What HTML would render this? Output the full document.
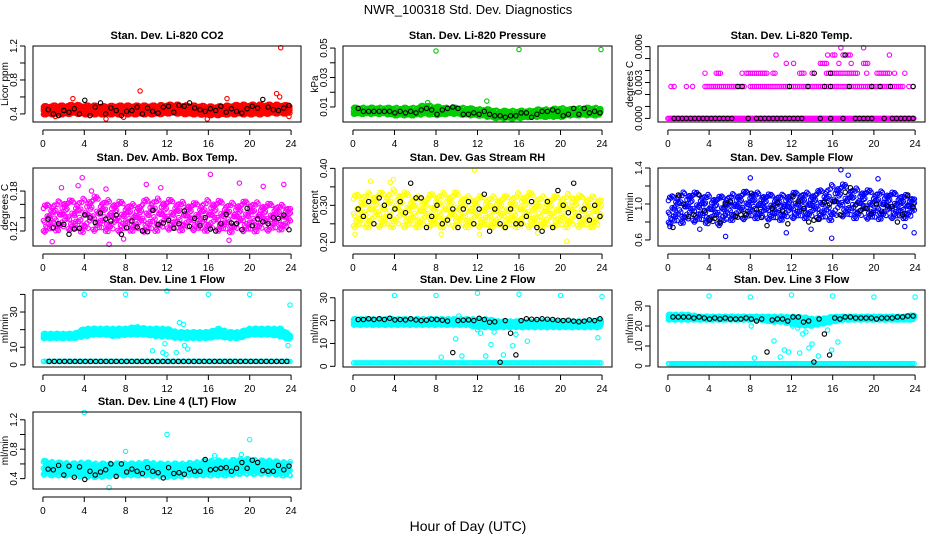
<!DOCTYPE html>
<html><head><meta charset="utf-8"><style>
html,body{margin:0;padding:0;background:#fff;}
svg{display:block;font-family:"Liberation Sans",sans-serif;}
</style></head><body>
<svg id="c" width="936" height="540" viewBox="0 0 936 540">
<text x="468" y="14" text-anchor="middle" font-size="13">NWR_100318 Std. Dev. Diagnostics</text>
<text x="468" y="531" text-anchor="middle" font-size="14">Hour of Day (UTC)</text>
</svg>
<script>
// ---- data ----
var hours = [0,1,2,3,4,5,6,7,8,9,10,11,12,13,14,15,16,17,18,19,20,21,22,23,24];
var xTicks = [0,4,8,12,16,20,24];

var co2Lo = [0.39,0.39,0.39,0.40,0.39,0.39,0.39,0.39,0.39,0.39,0.39,0.39,0.40,0.40,0.39,0.39,0.38,0.38,0.39,0.39,0.39,0.39,0.40,0.40,0.40];
var co2Hi = [0.50,0.51,0.51,0.52,0.51,0.51,0.50,0.51,0.51,0.51,0.51,0.51,0.52,0.52,0.51,0.51,0.50,0.50,0.51,0.52,0.52,0.52,0.52,0.52,0.51];
var co2Black = [0.45,0.40,0.38,0.44,0.42,0.46,0.40,0.56,0.38,0.48,0.53,0.40,0.47,0.44,0.38,0.43,0.44,0.48,0.40,0.47,0.43,0.41,0.48,0.49,0.42,0.50,0.49,0.53,0.47,0.45,0.43,0.46,0.44,0.49,0.42,0.46,0.43,0.41,0.46,0.49,0.47,0.57,0.48,0.45,0.44,0.47,0.50];
var co2OutX = [23.0,9.4,22.6,2.9,17.8,23.8,6.1,15.9,22.9,1.2,7.8];
var co2OutY = [1.18,0.67,0.64,0.58,0.58,0.37,0.34,0.34,0.60,0.37,0.36];

var presLo = [0.005,0.005,0.005,0.005,0.004,0.004,0.004,0.005,0.004,0.005,0.005,0.004,0.004,0.003,0.002,0.002,0.002,0.003,0.003,0.003,0.003,0.004,0.004,0.004,0.004];
var presHi = [0.010,0.010,0.010,0.010,0.010,0.010,0.010,0.012,0.011,0.010,0.010,0.010,0.009,0.009,0.008,0.008,0.008,0.008,0.009,0.009,0.010,0.009,0.010,0.010,0.010];
var presBlack = [0.009,0.007,0.007,0.007,0.007,0.007,0.007,0.006,0.007,0.006,0.007,0.006,0.008,0.009,0.008,0.005,0.008,0.009,0.010,0.009,0.005,0.005,0.006,0.005,0.007,0.005,0.004,0.004,0.003,0.004,0.004,0.006,0.006,0.003,0.005,0.007,0.007,0.008,0.007,0.004,0.005,0.009,0.005,0.009,0.006,0.007,0.006];
var presOutX = [8.0,16.0,23.9,12.9,7.2];
var presOutY = [0.048,0.049,0.049,0.014,0.013];

var tempLevels = [0.0, 0.00267, 0.00378, 0.0046, 0.0053, 0.0059];
var tempMagentaHours = [
  [],
  [0.3,0.6,1.8,2.4,3.6,3.8,4.0,4.2,4.4,4.6,4.8,5.0,5.2,5.4,5.6,5.8,6.0,6.2,6.4,6.6,6.8,7.0,7.2,7.4,8.0,8.2,8.4,8.6,8.8,9.0,9.2,9.4,9.6,9.8,10.0,10.2,10.4,10.6,10.8,11.0,11.2,11.4,11.6,11.8,12.0,12.2,12.4,12.6,12.8,13.0,13.2,13.4,13.6,13.8,14.0,14.2,14.4,14.6,14.8,15.0,15.2,15.4,15.6,15.8,16.0,16.2,16.4,16.6,16.8,17.0,17.2,17.4,17.6,17.8,18.0,18.2,18.4,18.6,18.8,19.0,19.2,19.4,19.6,19.8,20.0,20.2,20.4,20.6,20.8,21.0,21.2,21.4,21.6,21.8,22.0,22.2,22.4,22.6,22.8,23.4,23.8],
  [3.6,4.7,4.9,5.1,7.2,7.6,7.8,8.0,8.2,8.4,8.6,8.8,9.0,9.2,9.4,9.6,10.2,10.4,12.8,13.0,13.2,14.0,15.4,15.6,15.8,16.0,16.2,16.4,16.6,16.8,17.0,17.2,17.4,17.6,17.8,18.0,18.2,18.4,19.3,20.3,20.5,20.7,20.9,21.1,21.3,21.5,22.0,23.0],
  [11.5,12.2,14.8,15.0,15.2,15.4,16.6,17.8,19.0,19.2,19.4],
  [10.5,15.5,16.0,16.2,17.0,17.5,17.7,21.5],
  [16.8,19.0]
];
var tempBlackHours = [
  [0.6,1.0,1.4,1.8,2.2,2.6,3.0,3.4,3.8,4.2,4.6,5.0,5.4,5.8,6.2,7.8,8.6,9.0,9.4,9.8,10.2,10.6,11.0,11.4,11.8,12.2,12.6,13.0,14.8,15.8,17.0,18.2,18.6,19.0,19.4,19.8,21.0,21.8,22.2,22.6,23.0,23.4,23.8],
  [6.8,7.2,11.8,13.6,15.2,15.8,17.6,19.8,20.6,21.6,23.8],
  [14.2,15.8],
  [],
  [17.2],
  []
];

var ambLo = [0.118,0.120,0.122,0.120,0.118,0.120,0.120,0.118,0.120,0.120,0.118,0.120,0.122,0.120,0.122,0.120,0.120,0.120,0.118,0.120,0.118,0.120,0.120,0.122,0.122];
var ambHi = [0.160,0.165,0.170,0.168,0.172,0.175,0.170,0.168,0.165,0.162,0.170,0.172,0.170,0.168,0.165,0.164,0.170,0.168,0.165,0.166,0.168,0.165,0.163,0.162,0.160];
var ambBlack = [0.138,0.125,0.131,0.130,0.115,0.123,0.124,0.144,0.140,0.133,0.147,0.138,0.135,0.144,0.115,0.125,0.135,0.126,0.120,0.119,0.151,0.130,0.132,0.136,0.124,0.131,0.150,0.127,0.139,0.128,0.140,0.123,0.120,0.131,0.145,0.132,0.131,0.122,0.154,0.128,0.138,0.134,0.131,0.140,0.139,0.144,0.122];
var ambOutX = [3.8,16.2,6.4,1.8,3.4,10.0,19.0,23.3,21.3,11.4,6.1,18.0,7.8,0.9,4.7];
var ambOutY = [0.200,0.205,0.100,0.185,0.188,0.190,0.192,0.190,0.187,0.185,0.183,0.106,0.108,0.104,0.180];

var rhLo = [0.24,0.24,0.24,0.24,0.24,0.24,0.24,0.24,0.24,0.24,0.24,0.24,0.24,0.24,0.24,0.24,0.24,0.24,0.24,0.24,0.24,0.24,0.24,0.24,0.24];
var rhHi = [0.33,0.34,0.34,0.34,0.35,0.34,0.33,0.33,0.34,0.34,0.34,0.33,0.33,0.33,0.33,0.33,0.34,0.34,0.33,0.33,0.33,0.34,0.33,0.33,0.33];
var rhBlack = [0.29,0.27,0.31,0.25,0.32,0.30,0.27,0.29,0.31,0.28,0.36,0.32,0.32,0.24,0.27,0.30,0.25,0.26,0.29,0.24,0.29,0.31,0.25,0.29,0.33,0.23,0.29,0.25,0.24,0.29,0.25,0.25,0.27,0.31,0.24,0.23,0.31,0.24,0.34,0.30,0.28,0.36,0.27,0.29,0.26,0.30,0.27];
var rhOutX = [11.7,20.6,0.2,8.5,1.7,3.9,3.6,12.2,17.8];
var rhOutY = [0.395,0.203,0.222,0.222,0.365,0.370,0.362,0.222,0.225];

var flowLo = [0.78,0.78,0.80,0.80,0.78,0.76,0.82,0.82,0.84,0.84,0.82,0.82,0.84,0.84,0.84,0.82,0.82,0.86,0.84,0.84,0.82,0.84,0.84,0.84,0.84];
var flowHi = [1.08,1.14,1.16,1.14,1.12,1.10,1.12,1.15,1.16,1.14,1.12,1.12,1.14,1.15,1.14,1.18,1.24,1.24,1.20,1.18,1.16,1.16,1.14,1.12,1.10];
var flowBlack = [0.74,1.10,1.00,0.86,0.88,1.10,0.92,0.82,0.84,0.80,1.00,1.03,0.86,0.88,0.88,1.12,0.94,0.85,0.76,0.95,1.02,0.92,0.78,1.08,1.03,0.95,0.80,0.82,0.83,1.02,1.00,1.03,0.88,1.13,1.18,0.99,0.93,0.95,0.89,1.00,0.92,0.98,0.97,0.80,0.88,1.10,0.97];
var flowOutX = [5.6,15.9,23.9,8.0,16.8,17.5,20.4,3.1,13.9,11.5,0.2,23.0];
var flowOutY = [0.64,0.62,0.68,1.29,1.38,1.32,1.28,0.72,0.72,0.68,0.75,0.75];

var l1Lo = [15.0,15.0,15.0,15.0,16.0,17.0,17.0,16.0,17.0,17.0,17.0,16.0,16.0,15.0,15.0,15.0,15.0,16.0,15.0,15.0,17.0,17.0,17.0,16.0,14.0];
var l1Hi = [18.0,18.0,18.0,18.0,21.0,21.0,21.0,21.0,21.0,22.0,21.0,21.0,21.0,19.0,19.0,19.0,19.0,21.0,19.0,19.0,21.0,21.0,21.0,21.0,17.0];
var l1Base = 2;
var l1OutX = [4.0,8.0,12.0,16.0,20.0,23.9,10.6,11.6,11.8,13.2,13.6,12.9,14.0,13.7,11.9,23.7];
var l1OutY = [40,40,42,40,40,34,8,7,12,24,23,7,9,11,6,11];

var l2Lo = [18,18,18,18,18,18,18,18,18,18,18,18,17,17,17,17,17,17,17,17,17,17,17,17,17];
var l2Hi = [21,21,21,21,21,21,21,21,21,21,21,21,21,21,20,20,20,20,20,20,20,20,20,20,21];
var l2Base = 1.5;
var l2Black = [20.5,20.5,20.8,20.5,20.8,20.5,21.0,20.3,20.5,20.3,20.8,20.3,20.0,20.2,20.6,20.5,20.2,19.8,6.0,20.0,20.2,20.3,20.0,21.0,20.5,19.3,19.5,1.8,20.0,14.5,5.0,20.0,20.8,20.6,20.5,20.8,20.6,20.5,20.2,20.0,20.2,19.8,19.5,19.8,20.3,20.0,20.8];
var l2OutX = [4.0,8.0,12.0,16.0,20.0,24.0,8.5,9.9,10.5,12.3,12.8,13.3,13.6,14.5,15.4,15.7,16.8,23.6,10.2,12.0];
var l2OutY = [31,31,32,31.5,31,30.5,4,12,4.5,14.5,4.5,9.5,15,5,9,14,11,12.5,22,16];

var l3Lo = [23,23,23,23,23,23,23,23,23,23,22,22,21,20,20,21,22,23,23,23,23,23,23,23,23];
var l3Hi = [26,26,26,25,25,25,25,25,25,25,25,25,25,25,24,24,25,25,25,25,25,25,25,25,26];
var l3Base = 1.2;
var l3Black = [24.5,24.5,24.5,24.5,24.0,24.5,24.0,23.5,24.0,23.5,24.0,23.5,23.5,23.5,24.0,23.5,22.5,23.5,7.0,23.0,23.5,23.5,22.5,24.5,24.5,22.0,22.5,2.0,23.5,16.0,5.5,24.0,23.5,24.5,24.5,24.0,24.0,24.0,24.0,23.5,24.0,24.0,24.0,24.5,24.5,25.0,25.0];
var l3OutX = [4.0,8.0,12.0,16.0,20.0,24.0,8.1,8.4,10.3,10.9,11.3,11.7,12.8,13.1,13.7,14.0,14.6,15.5,15.9,16.5,12.1,12.6,13.4];
var l3OutY = [35,34.5,35.5,35,34.5,34.5,20,4,12.5,4.5,8,7,6.5,16,9,11,5,18,8,12,20,19,17];

var l4Lo = [0.45,0.44,0.44,0.44,0.42,0.42,0.42,0.44,0.44,0.44,0.44,0.43,0.42,0.42,0.44,0.44,0.44,0.44,0.44,0.46,0.46,0.46,0.46,0.44,0.44];
var l4Hi = [0.66,0.64,0.63,0.62,0.64,0.62,0.62,0.62,0.62,0.62,0.64,0.62,0.62,0.62,0.62,0.64,0.66,0.66,0.66,0.68,0.68,0.66,0.66,0.64,0.64];
var l4Black = [0.53,0.52,0.58,0.45,0.57,0.42,0.56,0.39,0.50,0.45,0.49,0.52,0.60,0.43,0.60,0.49,0.53,0.50,0.47,0.55,0.50,0.48,0.41,0.55,0.47,0.48,0.46,0.53,0.50,0.50,0.66,0.52,0.53,0.54,0.55,0.50,0.54,0.62,0.54,0.65,0.62,0.51,0.50,0.50,0.58,0.52,0.57];
var l4OutX = [4.0,12.0,20.0,8.0,6.4,19.2,16.6];
var l4OutY = [1.30,1.00,0.93,0.77,0.28,0.73,0.71];

// ---- rendering ----
var svg = document.getElementById('c');
var NS = 'http://www.w3.org/2000/svg';
var PATTERN = [0.05,0.55,0.3,0.85,0.15,0.7,0.42,0.95,0.25,0.62,0.0,0.5,0.78,0.35,0.9,0.1,0.66,0.2,0.48,0.82];
function mk(tag, attrs, parent){
  var e = document.createElementNS(NS, tag);
  for (var k in attrs) e.setAttribute(k, attrs[k]);
  (parent||svg).appendChild(e);
  return e;
}
function interp(arr, t){
  var i = Math.min(Math.floor(t), 23); var f = t - i;
  return arr[i] + (arr[i+1]-arr[i])*f;
}
function panel(c){
  var g = mk('g', {});
  
  
  var sx = function(h){ return c.x0 + (h + 0.96) / 25.92 * (c.x1 - c.x0); };
  var sy = function(v){ return c.y1 - (v - c.ymin) / (c.ymax - c.ymin) * (c.y1 - c.y0); };
  function pt(h, v, col, nm){
    var e = mk('circle', {cx: sx(h).toFixed(1), cy: sy(v).toFixed(1), r: 2.2, fill: 'none', stroke: col, 'stroke-width': 1.1}, g);
    
    
  }
  if (c.lo){
    if (c.solid){
      var d = '';
      for (var t=0; t<=24; t+=0.5) d += (d?'L':'M') + sx(t).toFixed(1) + ',' + sy(interp(c.hi,t)-c.solid*(interp(c.hi,t)-interp(c.lo,t))).toFixed(1);
      for (var t=24; t>=0; t-=0.5) d += 'L' + sx(t).toFixed(1) + ',' + sy(interp(c.lo,t)+c.solid*(interp(c.hi,t)-interp(c.lo,t))).toFixed(1);
      var band = mk('path', {d: d + 'Z', fill: c.color}, g);
      
      
    }
    var k = 0;
    for (var t=0.05; t<=23.95; t+=c.step){
      var lo = interp(c.lo,t), hi = interp(c.hi,t);
      for (var j=0; j<c.per; j++){
        var f = PATTERN[(k*7 + j*3) % PATTERN.length];
        pt(t, lo + f*(hi-lo), c.color, c.name + '-point');
      }
      k++;
    }
  }
  if (c.base !== undefined){
    for (var t=0.05; t<=23.95; t+=0.15) pt(t, c.base, c.color, c.name + '-baseline-point');
  }
  if (c.ox) for (var i=0; i<c.ox.length; i++) pt(c.ox[i], c.oy[i], c.color, c.name + '-outlier');
  if (c.black) for (var i=0; i<c.black.length; i++) pt(0.5 + i*23.3/(c.black.length-1), c.black[i], '#000', c.name + '-hourly-point');
  if (c.blackBase !== undefined) for (var t=0.6; t<=23.9; t+=0.5) pt(t, c.blackBase, '#000', c.name + '-hourly-point');
  if (c.levels){
    for (var L=0; L<c.levels.length; L++){
      var hs = c.magHours[L];
      if (L===0){ for (var t=0; t<=24; t+=0.12) pt(t, 0, c.color, c.name + '-point'); }
      for (var i=0; i<hs.length; i++) pt(hs[i], c.levels[L], c.color, c.name + '-point');
    }
    for (var L=0; L<c.levels.length; L++){
      var bh = c.blackHours[L];
      for (var i=0; i<bh.length; i++) pt(bh[i], c.levels[L], '#000', c.name + '-hourly-point');
    }
  }
  var b = mk('rect', {x: c.x0, y: c.y0, width: c.x1-c.x0, height: c.y1-c.y0, fill: 'none', stroke: '#000', 'stroke-width': 1}, g);
  
  
  var ax = mk('line', {x1: sx(0), x2: sx(24), y1: c.y1+8, y2: c.y1+8, stroke: '#000'}, g);
  
  
  for (var i=0; i<xTicks.length; i++){
    mk('line', {x1: sx(xTicks[i]), x2: sx(xTicks[i]), y1: c.y1+8, y2: c.y1+13, stroke: '#000'}, g);
    var tx = mk('text', {x: sx(xTicks[i]), y: c.y1+25, 'text-anchor': 'middle', 'font-size': 10}, g);
    tx.textContent = xTicks[i];
    
    
  }
  var ay = mk('line', {x1: c.x0-8, x2: c.x0-8, y1: sy(c.ticks[0]), y2: sy(c.ticks[c.ticks.length-1]), stroke: '#000'}, g);
  
  
  for (var i=0; i<c.ticks.length; i++){
    var yy = sy(c.ticks[i]);
    mk('line', {x1: c.x0-13, x2: c.x0-8, y1: yy, y2: yy, stroke: '#000'}, g);
    if (c.tickLabels[i]){
      var ty = mk('text', {x: 0, y: 0, 'text-anchor': 'middle', 'font-size': 10, transform: 'translate(' + (c.x0-16) + ',' + yy + ') rotate(-90)'}, g);
      ty.textContent = c.tickLabels[i];
      
      
    }
  }
  var yl = mk('text', {x: 0, y: 0, 'text-anchor': 'middle', 'font-size': 10, transform: 'translate(' + (c.x0-25) + ',' + ((c.y0+c.y1)/2) + ') rotate(-90)'}, g);
  yl.textContent = c.ylab;
  
  
  var ti = mk('text', {x: (c.x0+c.x1)/2, y: c.y0-7, 'text-anchor': 'middle', 'font-size': 11, 'font-weight': 'bold'}, g);
  ti.textContent = c.title;
  
  
}
var COLS = [[33,301],[343,612],[658,925]];
var ROWS = [[46,122],[168,246],[290,367],[412,489]];
function P(col,row,o){ o.x0=COLS[col][0]; o.x1=COLS[col][1]; o.y0=ROWS[row][0]; o.y1=ROWS[row][1]; panel(o); }

P(0,0,{name:'co2',title:'Stan. Dev. Li-820 CO2',ylab:'Licor ppm',color:'#ff0000',ymin:0.305,ymax:1.2,ticks:[0.4,0.6,0.8,1.0,1.2],tickLabels:['0.4','','0.8','','1.2'],lo:co2Lo,hi:co2Hi,step:0.08,per:4,solid:0.2,black:co2Black,ox:co2OutX,oy:co2OutY});
P(1,0,{name:'pressure',title:'Stan. Dev. Li-820 Pressure',ylab:'kPa',color:'#00cc00',ymin:-0.0002,ymax:0.0514,ticks:[0.01,0.02,0.03,0.04,0.05],tickLabels:['0.01','','0.03','','0.05'],lo:presLo,hi:presHi,step:0.08,per:3,solid:0.2,black:presBlack,ox:presOutX,oy:presOutY});
P(2,0,{name:'licor-temp',title:'Stan. Dev. Li-820 Temp.',ylab:'degrees C',color:'#ff00ff',ymin:-0.0003,ymax:0.00605,ticks:[0,0.001,0.002,0.003,0.004,0.005,0.006],tickLabels:['0.000','','','0.003','','','0.006'],levels:tempLevels,magHours:tempMagentaHours,blackHours:tempBlackHours});
P(0,1,{name:'amb-box-temp',title:'Stan. Dev. Amb. Box Temp.',ylab:'degrees C',color:'#ff00ff',ymin:0.0975,ymax:0.2146,ticks:[0.12,0.14,0.16,0.18],tickLabels:['0.12','','','0.18'],lo:ambLo,hi:ambHi,step:0.12,per:3,black:ambBlack,ox:ambOutX,oy:ambOutY});
P(1,1,{name:'gas-stream-rh',title:'Stan. Dev. Gas Stream RH',ylab:'percent',color:'#ffff00',ymin:0.19,ymax:0.401,ticks:[0.20,0.25,0.30,0.35,0.40],tickLabels:['0.20','','0.30','','0.40'],lo:rhLo,hi:rhHi,step:0.12,per:3,black:rhBlack,ox:rhOutX,oy:rhOutY});
P(2,1,{name:'sample-flow',title:'Stan. Dev. Sample Flow',ylab:'ml/min',color:'#0000ff',ymin:0.533,ymax:1.4,ticks:[0.6,0.8,1.0,1.2,1.4],tickLabels:['0.6','','1.0','','1.4'],lo:flowLo,hi:flowHi,step:0.12,per:3,black:flowBlack,ox:flowOutX,oy:flowOutY});
P(0,2,{name:'line1-flow',title:'Stan. Dev. Line 1 Flow',ylab:'ml/min',color:'#00ffff',ymin:-1.2,ymax:42.5,ticks:[0,10,20,30,40],tickLabels:['0','10','','30',''],lo:l1Lo,hi:l1Hi,step:0.06,per:3,solid:0.25,base:l1Base,blackBase:l1Base,ox:l1OutX,oy:l1OutY});
P(1,2,{name:'line2-flow',title:'Stan. Dev. Line 2 Flow',ylab:'ml/min',color:'#00ffff',ymin:-0.3,ymax:33.4,ticks:[0,10,20,30],tickLabels:['0','10','20','30'],lo:l2Lo,hi:l2Hi,step:0.06,per:3,solid:0.25,base:l2Base,black:l2Black,ox:l2OutX,oy:l2OutY});
P(2,2,{name:'line3-flow',title:'Stan. Dev. Line 3 Flow',ylab:'ml/min',color:'#00ffff',ymin:-0.5,ymax:38,ticks:[0,10,20,30],tickLabels:['0','10','20','30'],lo:l3Lo,hi:l3Hi,step:0.06,per:3,solid:0.25,base:l3Base,black:l3Black,ox:l3OutX,oy:l3OutY});
P(0,3,{name:'line4-flow',title:'Stan. Dev. Line 4 (LT) Flow',ylab:'ml/min',color:'#00ffff',ymin:0.259,ymax:1.306,ticks:[0.4,0.6,0.8,1.0,1.2],tickLabels:['0.4','','0.8','','1.2'],lo:l4Lo,hi:l4Hi,step:0.07,per:3,solid:0.15,black:l4Black,ox:l4OutX,oy:l4OutY});
</script>
</body></html>
